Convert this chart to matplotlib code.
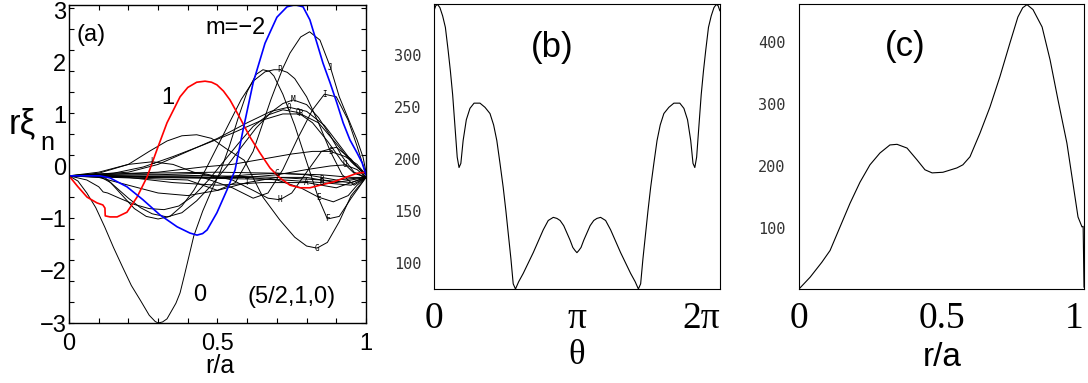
import matplotlib
matplotlib.use("Agg")
import matplotlib.pyplot as plt
from matplotlib.ticker import MultipleLocator, FixedLocator

# ---------------- panel (a) data (r/a, r*xi_n) ----------------
red_x = [0, 0.03, 0.061, 0.094, 0.114, 0.121, 0.122, 0.138, 0.162, 0.195, 0.229, 0.263, 0.296,
         0.33, 0.374, 0.4, 0.43, 0.458, 0.48, 0.498, 0.52, 0.542, 0.576, 0.609, 0.643, 0.677,
         0.71, 0.744, 0.778, 0.811, 0.845, 0.889, 0.936, 0.97, 1.0]
red_y = [-0.17, -0.38, -0.58, -0.69, -0.73, -0.79, -0.94, -0.96, -0.96, -0.87, -0.58, -0.19, 0.33,
         0.85, 1.35, 1.53, 1.63, 1.65, 1.63, 1.58, 1.46, 1.29, 0.94, 0.58, 0.27, -0.02,
         -0.21, -0.35, -0.4, -0.4, -0.35, -0.29, -0.19, -0.12, -0.1]

blue_x = [0, 0.104, 0.138, 0.195, 0.249, 0.306, 0.364, 0.407, 0.431, 0.45, 0.465, 0.498, 0.532,
          0.559, 0.586, 0.62, 0.66, 0.7, 0.734, 0.761, 0.788, 0.811, 0.835, 0.855, 0.879,
          0.902, 0.923, 0.946, 0.97, 0.987, 1.0]
blue_y = [-0.17, -0.17, -0.21, -0.38, -0.63, -0.92, -1.15, -1.27, -1.31, -1.28, -1.21, -0.88,
          -0.44, -0.06, 0.71, 1.62, 2.38, 2.88, 3.08, 3.12, 3.08, 2.83, 2.38, 2.0, 1.62,
          1.23, 0.85, 0.52, 0.27, 0.08, -0.15]

# black curves
m0_x = [0, 0.03, 0.06, 0.09, 0.12, 0.15, 0.18, 0.21, 0.24, 0.27, 0.29, 0.30, 0.315, 0.33, 0.36,
        0.374, 0.39, 0.42, 0.45, 0.48, 0.51, 0.54, 0.57, 0.60, 0.63, 0.653, 0.675, 0.69, 0.72,
        0.76, 0.80, 0.84, 0.87, 0.91, 0.95, 1.0]
m0_y = [-0.17, -0.27, -0.5, -0.78, -1.15, -1.55, -1.92, -2.28, -2.56, -2.85, -2.97, -3.0, -2.98,
        -2.92, -2.62, -2.42, -2.05, -1.33, -0.85, -0.45, -0.08, 0.4, 0.95, 1.45, 1.78, 1.87,
        1.84, 1.75, 1.4, 0.8, 0.1, -0.6, -1.0, -0.95, -0.6, -0.2]

b1_x = [0, 0.1, 0.14, 0.18, 0.22, 0.26, 0.30, 0.34, 0.38, 0.42, 0.46, 0.50, 0.54, 0.58, 0.62,
        0.66, 0.69, 0.71, 0.735, 0.76, 0.80, 0.84, 0.88, 0.92, 0.96, 1.0]
b1_y = [-0.17, -0.17, -0.3, -0.55, -0.8, -0.95, -1.0, -0.95, -0.75, -0.45, -0.05, 0.4, 0.85, 1.3,
        1.65, 1.83, 1.87, 1.87, 1.82, 1.7, 1.35, 0.85, 0.3, -0.15, -0.35, -0.2]

b2_x = [0, 0.12, 0.16, 0.2, 0.24, 0.28, 0.33, 0.38, 0.43, 0.48, 0.53, 0.58, 0.63, 0.68, 0.72,
        0.755, 0.8, 0.84, 0.88, 0.92, 0.96, 1.0]
b2_y = [-0.17, -0.2, -0.4, -0.6, -0.78, -0.9, -0.96, -0.88, -0.65, -0.35, 0.0, 0.38, 0.75, 1.05,
        1.22, 1.29, 1.2, 0.95, 0.6, 0.2, -0.1, -0.2]

b3_x = [0, 0.06, 0.1, 0.115, 0.13, 0.17, 0.22, 0.27, 0.32, 0.37, 0.42, 0.47, 0.52, 0.57, 0.62,
        0.67, 0.72, 0.77, 0.82, 0.87, 0.92, 0.96, 1.0]
b3_y = [-0.17, -0.25, -0.38, -0.48, -0.5, -0.6, -0.72, -0.8, -0.82, -0.75, -0.55, -0.25, 0.1,
        0.45, 0.78, 1.0, 1.1, 1.05, 0.85, 0.5, 0.1, -0.12, -0.2]

b4_x = [0, 0.15, 0.25, 0.35, 0.45, 0.55, 0.65, 0.72, 0.78, 0.84, 0.9, 0.95, 1.0]
b4_y = [-0.17, -0.12, 0.0, 0.2, 0.42, 0.65, 0.9, 1.02, 1.02, 0.85, 0.45, 0.1, -0.15]

b5_x = [0, 0.2, 0.3, 0.4, 0.5, 0.6, 0.68, 0.74, 0.8, 0.86, 0.92, 0.96, 1.0]
b5_y = [-0.17, -0.1, 0.05, 0.3, 0.55, 0.85, 1.07, 1.15, 1.07, 0.8, 0.35, 0.05, -0.15]

b6_x = [0, 0.1, 0.2, 0.27, 0.33, 0.38, 0.43, 0.48, 0.53, 0.59, 0.653, 0.71, 0.76, 0.80, 0.835,
        0.87, 0.91, 0.95, 1.0]
b6_y = [-0.17, -0.12, 0.05, 0.3, 0.5, 0.6, 0.62, 0.55, 0.35, 0.13, -0.58, -1.02, -1.35, -1.52,
        -1.56, -1.45, -1.05, -0.55, -0.2]

b7_x = [0, 0.3, 0.45, 0.55, 0.62, 0.67, 0.71, 0.75, 0.80, 0.85, 0.9, 0.95, 1.0]
b7_y = [-0.17, -0.15, -0.12, -0.25, -0.45, -0.6, -0.63, -0.5, -0.1, 0.3, 0.38, 0.15, -0.2]

b8_x = [0, 0.45, 0.55, 0.62, 0.67, 0.72, 0.77, 0.82, 0.86, 0.9, 0.94, 0.97, 1.0]
b8_y = [-0.17, -0.2, -0.4, -0.6, -0.5, -0.05, 0.55, 1.1, 1.4, 1.35, 0.9, 0.4, -0.15]

b9_x = [0, 0.4, 0.5, 0.56, 0.62, 0.68, 0.72, 0.744, 0.78, 0.81, 0.845, 0.88, 0.91, 0.946, 0.97,
        0.99, 1.0]
b9_y = [-0.17, -0.25, -0.45, -0.3, 0.3, 1.3, 1.9, 2.19, 2.5, 2.6, 2.44, 1.92, 1.35, 0.85, 0.52,
        0.19, -0.1]

b10_x = [0, 0.3, 0.45, 0.55, 0.65, 0.75, 0.82, 0.88, 0.93, 0.97, 1.0]
b10_y = [-0.17, -0.1, 0.0, 0.05, 0.15, 0.25, 0.3, 0.3, 0.2, 0.05, -0.15]

b11_x = [0, 0.5, 0.6, 0.7, 0.8, 0.88, 0.93, 0.97, 1.0]
b11_y = [-0.17, -0.2, -0.2, -0.15, -0.05, 0.02, 0.04, -0.05, -0.2]

b12_x = [0, 0.5, 0.6, 0.7, 0.78, 0.84, 0.89, 0.94, 0.97, 1.0]
b12_y = [-0.17, -0.2, -0.2, -0.25, -0.4, -0.58, -0.67, -0.55, -0.35, -0.2]

b13_x = [0, 0.25, 0.5, 0.7, 0.85, 0.95, 1.0]
b13_y = [-0.17, -0.15, -0.17, -0.2, -0.25, -0.3, -0.2]
b14_y = [-0.17, -0.2, -0.22, -0.24, -0.3, -0.35, -0.2]
b15_y = [-0.17, -0.12, -0.1, -0.12, -0.15, -0.2, -0.2]

b16_x = [0, 0.2, 0.35, 0.5, 0.65, 0.8, 0.9, 1.0]
b16_y = [-0.17, -0.2, -0.3, -0.35, -0.3, -0.3, -0.4, -0.2]

b17_x = [0, 0.1, 0.2, 0.28, 0.35, 0.42, 0.5, 0.6, 0.7, 0.8, 0.9, 1.0]
b17_y = [-0.17, -0.1, 0.05, 0.1, 0.05, -0.1, -0.2, -0.15, -0.12, -0.15, -0.25, -0.2]

b18_x = [0, 0.1, 0.2, 0.3, 0.4, 0.5, 0.6, 0.7, 0.8, 0.9, 1.0]
b18_y = [-0.17, -0.2, -0.35, -0.5, -0.55, -0.45, -0.3, -0.2, -0.2, -0.3, -0.2]

# (x, y, tag letter, index of the point carrying the tag)
black_curves = [
    (m0_x, m0_y, "F", 32), (b1_x, b1_y, "P", 17), (b2_x, b2_y, "M", 15),
    (b3_x, b3_y, "Q", 17), (b4_x, b4_y, "R", 8), (b5_x, b5_y, "O", 7),
    (b6_x, b6_y, "G", 14), (b7_x, b7_y, "H", 6), (b8_x, b8_y, "I", 8),
    (b9_x, b9_y, "J", 11), (b10_x, b10_y, "S", 7), (b11_x, b11_y, "U", 6),
    (b12_x, b12_y, "E", 5), (b13_x, b13_y, "B", 4), (b13_x, b14_y, "D", 4),
    (b13_x, b15_y, "C", 3), (b16_x, b16_y, "A", 5), (b17_x, b17_y, "L", 3),
    (b18_x, b18_y, "T", 6),
]

# ---------------- panel (b) data ----------------
theta = [0, 0.04, 0.08, 0.13, 0.19, 0.25, 0.31, 0.36, 0.41, 0.46, 0.51, 0.55, 0.59, 0.64, 0.71,
         0.79, 0.88, 1.01, 1.12, 1.23, 1.31, 1.38, 1.45, 1.52, 1.58, 1.63, 1.69, 1.74, 1.79,
         1.86, 1.96, 2.07, 2.18, 2.29, 2.40, 2.51, 2.62, 2.70, 2.77, 2.85, 2.92, 2.99, 3.05,
         3.10, 3.14,
         3.18, 3.23, 3.29, 3.36, 3.43, 3.51, 3.58, 3.66, 3.77, 3.88, 3.99, 4.10, 4.21, 4.32,
         4.42, 4.49, 4.54, 4.59, 4.65, 4.70, 4.76, 4.83, 4.90, 4.97, 5.05, 5.16, 5.27, 5.40,
         5.49, 5.57, 5.64, 5.69, 5.73, 5.77, 5.82, 5.87, 5.92, 5.97, 6.03, 6.09, 6.15, 6.20,
         6.24, 6.28]
b_val = [343, 348, 349, 346, 338, 327, 305, 285, 262, 232, 202, 192, 196, 218, 238,
         249, 254, 254, 250, 244, 233, 218, 196, 173, 150, 129, 104, 80, 75,
         82, 90, 100, 110, 121, 132, 141, 144, 143, 141, 136, 129, 122, 115,
         112, 110,
         112, 115, 122, 129, 136, 141, 143, 144, 141, 132, 121, 110, 100, 90,
         82, 75, 80, 104, 129, 150, 173, 196, 218, 233, 244, 250, 254, 254,
         249, 238, 218, 196, 192, 202, 232, 262, 285, 305, 327, 338, 346, 349,
         348, 343]

# ---------------- panel (c) data ----------------
c_r = [0, 0.039, 0.08, 0.109, 0.144, 0.179, 0.214, 0.249, 0.284, 0.319, 0.344, 0.379, 0.414,
       0.442, 0.467, 0.505, 0.554, 0.575, 0.60, 0.635, 0.67, 0.705, 0.74, 0.768, 0.785, 0.80,
       0.821, 0.853, 0.881, 0.909, 0.94, 0.961, 0.979, 0.993, 0.997, 1.0]
c_val = [2, 21, 45, 64, 102, 140, 174, 202, 221, 234, 235, 229, 210,
         194, 189, 190, 197, 202, 215, 253, 295, 344, 398, 440, 455, 460,
         452, 424, 371, 306, 237, 173, 118, 102, 103, 5]

sans = "Liberation Sans"
serif = "Liberation Serif"
mono = "DejaVu Sans Mono"
grey = "#333333"

fig = plt.figure(figsize=(10.88, 3.83), dpi=100)
W, H = 1088.0, 383.0

def box(l, t, r, b):
    return [l / W, 1 - b / H, (r - l) / W, (b - t) / H]

# ---- (a) ----
ax = fig.add_axes(box(69, 5, 366, 323))
for xs, ys, tag, k in black_curves:
    ax.plot(xs, ys, color="black", lw=0.7)
    ax.text(xs[k], ys[k], tag, fontsize=5.5, family=mono, ha="center", va="center")
ax.plot(red_x, red_y, color="red", lw=1.2)
ax.plot(blue_x, blue_y, color="blue", lw=1.2)
ax.set_xlim(0, 1)
ax.set_ylim(-3.0, 3.115)
ax.xaxis.set_major_locator(FixedLocator([0, 0.5, 1]))
ax.set_xticklabels(["0", "0.5", "1"])
ax.xaxis.set_minor_locator(MultipleLocator(0.1))
ax.yaxis.set_major_locator(FixedLocator([-3, -2, -1, 0, 1, 2, 3]))
ax.yaxis.set_minor_locator(MultipleLocator(0.404, offset=-0.17))
ax.tick_params(axis="x", which="both", direction="in", top=True, length=3.5, width=0.8, pad=7)
ax.tick_params(axis="y", which="major", length=0, pad=2)
ax.tick_params(axis="y", which="minor", direction="in", right=True, length=3.5, width=0.8)
for lab in ax.get_xticklabels() + ax.get_yticklabels():
    lab.set_family(sans)
    lab.set_fontsize(17)
for s in ax.spines.values():
    s.set_linewidth(1.0)
ax.text(0.025, 2.54, "(a)", family=sans, fontsize=17, va="center")
ax.text(0.458, 2.67, "m=\u22122", family=sans, fontsize=17, va="center")
ax.text(0.333, 1.33, "1", family=sans, fontsize=17, ha="center", va="center")
ax.text(0.441, -2.46, "0", family=sans, fontsize=17, ha="center", va="center")
ax.text(0.6, -2.5, "(5/2,1,0)", family=sans, fontsize=17, va="center")
fig.text(220 / W, 1 - 366 / H, "r/a", family=sans, fontsize=18, ha="center", va="center")
fig.text(9 / W, 1 - 133 / H, "r\u03be", family=sans, fontsize=25, va="baseline")
fig.text(40 / W, 1 - 150 / H, "n", family=sans, fontsize=18, va="baseline")

# ---- (b) ----
bx = fig.add_axes(box(434, 4, 720, 289))
bx.plot(theta, b_val, color="black", lw=0.8)
bx.set_xlim(0, 6.2832)
bx.set_ylim(75, 349.5)
bx.set_xticks([0, 3.1416, 6.2832])
bx.set_xticklabels(["0", "\u03c0", "2\u03c0"])
bx.set_yticks([100, 150, 200, 250, 300])
bx.tick_params(axis="x", length=0, pad=9)
bx.tick_params(axis="y", length=0, pad=9, colors=grey)
for lab in bx.get_xticklabels():
    lab.set_family(serif)
    lab.set_fontsize(27)
bx.get_xticklabels()[2].set_horizontalalignment("right")
for lab in bx.get_yticklabels():
    lab.set_family(mono)
    lab.set_fontsize(11)
bx.text(2.59, 308, "(b)", family=sans, fontsize=25, ha="center", va="center")
fig.text(577 / W, 1 - 356 / H, "\u03b8", family=serif, fontsize=25, ha="center", va="center")

# ---- (c) ----
cx = fig.add_axes(box(799, 4, 1084, 289))
cx.plot(c_r, c_val, color="black", lw=0.8)
cx.set_xlim(0, 1)
cx.set_ylim(2, 461)
cx.set_xticks([0, 0.5, 1])
cx.set_xticklabels(["0", "0.5", "1"])
cx.set_yticks([100, 200, 300, 400])
cx.tick_params(axis="x", length=0, pad=9)
cx.tick_params(axis="y", length=0, pad=10, colors=grey)
for lab in cx.get_xticklabels():
    lab.set_family(serif)
    lab.set_fontsize(27)
cx.get_xticklabels()[2].set_horizontalalignment("right")
for lab in cx.get_yticklabels():
    lab.set_family(mono)
    lab.set_fontsize(11)
cx.text(0.372, 392, "(c)", family=sans, fontsize=25, ha="center", va="center")
fig.text(942 / W, 1 - 358 / H, "r/a", family=sans, fontsize=24, ha="center", va="center")

fig.savefig("out.png", dpi=100)
